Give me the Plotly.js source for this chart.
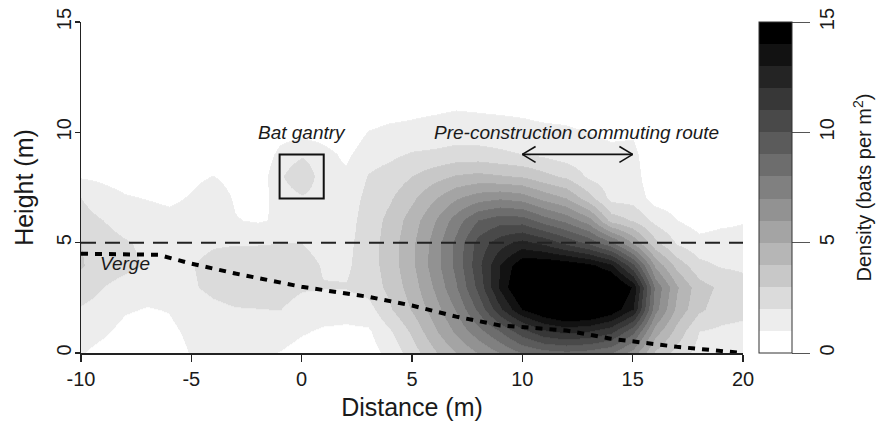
<!DOCTYPE html>
<html><head><meta charset="utf-8">
<script src="https://cdn.plot.ly/plotly-3.0.1.min.js"></script>
<style>html,body{margin:0;padding:0;background:#fff;} #chart{width:880px;height:426px;}</style>
</head><body><div id="chart"></div>
<script>
// Grid positions (m)
const distance = [-10,-9,-8,-7,-6,-5,-4,-3,-2,-1,0,1,2,3,4,5,6,7,8,9,10,11,12,13,14,15,16,17,18,19,20];
const height = [0,1,2,3,4,5,6,7,8,9,10,11,12];
// Bat density (bats per m^2), one list per distance column, values for heights 0..12
const density = [
  [1.05,1.4,1.9,2.5,3.1,3.0,2.4,2.0,0.9,0.6,0.4,0.2,0.1],      // -10
  [0.7,1.15,1.6,2.0,2.4,2.4,2.0,1.4,0.8,0.5,0.3,0.15,0.05],     // -9
  [0.4,0.7,1.1,1.7,2.2,2.1,1.6,1.1,0.6,0.35,0.2,0.1,0],        // -8
  [0.3,0.55,0.95,1.4,1.95,1.8,1.4,0.97,0.5,0.3,0.15,0.05,0],   // -7
  [0.6,0.8,1.05,1.4,1.7,1.6,1.25,0.85,0.45,0.2,0.1,0,0],       // -6
  [1.05,1.2,1.5,1.9,1.95,1.7,1.3,1.08,0.8,0.3,0.1,0,0],        // -5
  [1.2,1.4,1.8,2.2,2.3,1.9,1.6,1.5,1.02,0.55,0.2,0,0],         // -4
  [1.3,1.6,1.95,2.4,2.45,1.95,1.05,0.9,0.7,0.25,0.1,0,0],      // -3
  [1.2,1.6,1.98,2.5,2.5,1.95,0.9,0.6,0.35,0.2,0.1,0,0],        // -2
  [0.95,1.45,2.02,2.4,2.4,2.0,1.15,1.4,1.85,1.3,0.6,0.2,0],    // -1
  [0.6,1.1,1.6,2.1,2.4,2.0,1.4,1.85,2.9,1.85,0.7,0.2,0],       // 0
  [0.6,0.85,1.5,2.05,1.9,1.6,1.5,1.5,1.3,1.3,0.6,0.2,0],       // 1
  [0.5,0.8,1.4,2.05,1.85,1.75,1.6,1.45,1.2,0.8,0.3,0.1,0],     // 2
  [0.55,0.85,1.6,2.4,2.5,2.5,2.45,2.3,2.05,1.6,1.05,0.4,0.1],  // 3
  [1.3,1.9,2.9,3.3,3.5,3.5,3.3,2.9,2.4,1.8,1.3,0.6,0.1],       // 4
  [2.5,3.2,4.1,4.5,4.8,4.8,4.5,3.8,3.0,2.1,1.3,0.8,0.2],       // 5
  [3.8,4.8,5.5,6.1,6.5,6.4,5.9,4.9,3.6,2.2,1.4,0.9,0.3],       // 6
  [5.0,6.2,7.1,7.9,8.3,8.3,7.5,5.9,4.1,2.4,1.5,1.0,0.4],       // 7
  [6.0,7.6,9.2,10.3,10.7,10.4,9.0,6.6,4.3,2.4,1.45,0.95,0.35], // 8
  [7.0,9.0,11.8,13.2,13.0,11.6,9.6,6.9,4.1,2.2,1.4,0.9,0.3],   // 9
  [8.0,10.6,14.0,15.5,14.8,12.4,9.5,6.6,3.9,2.0,1.3,0.85,0.25],// 10
  [8.5,11.8,15.2,16.5,15.0,11.8,8.5,5.7,3.3,1.8,1.2,0.75,0.2], // 11
  [8.7,12.3,16.0,16.5,14.8,10.8,7.7,5.0,2.8,1.5,1.15,0.7,0.15],// 12
  [8.5,12.0,15.8,16.5,14.3,9.8,6.4,3.4,1.8,1.3,1.0,0.5,0.1],   // 13
  [8.0,11.3,14.8,16.0,13.2,8.3,3.6,1.7,1.35,1.2,0.85,0.4,0],   // 14
  [6.5,9.3,13.0,13.8,10.2,5.9,2.9,1.6,1.5,1.3,0.85,0.4,0],     // 15
  [3.8,5.5,7.4,7.8,5.8,3.3,1.7,0.6,0.1,0,0,0,0],               // 16
  [2.6,3.6,4.7,5.1,3.6,1.9,1.0,0.5,0.2,0.1,0,0,0],             // 17
  [1.6,2.0,3.2,3.4,2.3,1.3,0.6,0.3,0.1,0,0,0,0],               // 18
  [1.3,1.8,2.5,2.8,1.9,1.4,0.8,0.5,0.3,0.1,0,0,0],             // 19
  [1.2,1.7,2.3,2.4,1.8,1.3,0.95,0.7,0.5,0.3,0.1,0,0]           // 20
];
// Verge profile (dotted line)
const vergeX = [-10,-6.5,-5,-3,0,3,5,7,9,12,14,17,20];
const vergeY = [4.5,4.45,4.05,3.6,3.0,2.55,2.15,1.65,1.25,1.02,0.65,0.28,0];
const xTicks = [-10,-5,0,5,10,15,20];
const xTickLabels = ['-10','-5','0','5','10','15','20'];
const yTicks = [0,5,10,15];
const yTickLabels = ['0','5','10','15'];
const densityTicks = [0,5,10,15];
const densityTickLabels = ['0','5','10','15'];

const z = height.map((h, j) => distance.map((d, i) => density[i][j]));

const nBands = 15;
const colorscale = [];
for (let k = 0; k < nBands; k++) {
  const g = Math.round(255 * (1 - k / (nBands - 1)));
  const c = `rgb(${g},${g},${g})`;
  colorscale.push([k / nBands, c]);
  colorscale.push([(k + 1) / nBands, c]);
}

const FONT = 'Liberation Sans, Arial, Helvetica, sans-serif';
const INK = '#1a1a1a';

const traces = [
  {
    type: 'heatmap', x: distance, y: height, z: z,
    zmin: 0, zmax: 15, zsmooth: 'best', colorscale: colorscale,
    hoverinfo: 'skip',
    colorbar: {
      x: 1.0242, xanchor: 'left', xpad: 0, y: 0.5, yanchor: 'middle', ypad: 0,
      len: 1, lenmode: 'fraction', thickness: 33, thicknessmode: 'pixels',
      outlinewidth: 1, outlinecolor: '#333',
      tickmode: 'array', tickvals: densityTicks, ticktext: densityTickLabels,
      ticks: 'outside', ticklen: 18,
      tickwidth: 1, tickcolor: '#555', tickangle: -90,
      tickfont: {size: 20, family: FONT, color: INK}
    }
  },
  {
    type: 'scatter', mode: 'lines', x: vergeX, y: vergeY,
    line: {color: '#000', width: 4, dash: '7px,7px'},
    hoverinfo: 'skip', showlegend: false
  }
];

const layout = {
  width: 880, height: 426,
  margin: {l: 81, r: 137, t: 22, b: 73},
  paper_bgcolor: '#fff', plot_bgcolor: '#fff',
  showlegend: false,
  font: {family: FONT, color: INK},
  xaxis: {
    range: [-10, 20], tickmode: 'array', tickvals: xTicks, ticktext: xTickLabels,
    ticks: 'outside', ticklen: 7, tickwidth: 1.5, tickcolor: '#222',
    showline: true, linewidth: 1.5, linecolor: '#222',
    showgrid: false, zeroline: false, automargin: false,
    tickfont: {size: 20, family: FONT, color: INK}, ticklabelstandoff: 0,
    title: {text: 'Distance (m)', font: {size: 25, family: FONT, color: INK}, standoff: 10}
  },
  yaxis: {
    range: [0, 15], tickmode: 'array', tickvals: yTicks, ticktext: yTickLabels,
    ticks: 'outside', ticklen: 5, tickwidth: 1.5, tickcolor: '#222',
    showline: true, linewidth: 1.5, linecolor: '#222',
    showgrid: false, zeroline: false, automargin: false, tickangle: -90,
    tickfont: {size: 20, family: FONT, color: INK}, ticklabelstandoff: -4,
    title: {text: 'Height (m)', font: {size: 25, family: FONT, color: INK}, standoff: 12}
  },
  shapes: [
    {type: 'line', xref: 'x', yref: 'y', x0: -10, x1: 20, y0: 5, y1: 5, line: {color: '#222', width: 2, dash: '15px,9px'}},
    {type: 'rect', xref: 'x', yref: 'y', x0: -1, x1: 1, y0: 7, y1: 9, line: {color: '#111', width: 2}},
    {type: 'line', xref: 'x', yref: 'y', x0: 10, x1: 15, y0: 9, y1: 9, line: {color: '#111', width: 1.6}},
    {type: 'line', xref: 'x', yref: 'y', x0: 15, x1: 14.4, y0: 9, y1: 9.36, line: {color: '#111', width: 1.6}},
    {type: 'line', xref: 'x', yref: 'y', x0: 15, x1: 14.4, y0: 9, y1: 8.64, line: {color: '#111', width: 1.6}},
    {type: 'line', xref: 'x', yref: 'y', x0: 10, x1: 10.6, y0: 9, y1: 9.36, line: {color: '#111', width: 1.6}},
    {type: 'line', xref: 'x', yref: 'y', x0: 10, x1: 10.6, y0: 9, y1: 8.64, line: {color: '#111', width: 1.6}}
  ],
  annotations: [
    {xref: 'x', yref: 'y', x: 0, y: 10, text: '<i>Bat gantry</i>', showarrow: false, xanchor: 'center', yanchor: 'middle', font: {size: 19, family: FONT, color: INK}},
    {xref: 'x', yref: 'y', x: 12.45, y: 10, text: '<i>Pre-construction commuting route</i>', showarrow: false, xanchor: 'center', yanchor: 'middle', font: {size: 19, family: FONT, color: INK}},
    {xref: 'x', yref: 'y', x: -8, y: 4.05, text: '<i>Verge</i>', showarrow: false, xanchor: 'center', yanchor: 'middle', font: {size: 19, family: FONT, color: INK}},
    {xref: 'paper', yref: 'paper', x: (862 - 81) / 662, y: 0.5, text: 'Density (bats per m<sup>2</sup>)', textangle: -90, showarrow: false, xanchor: 'center', yanchor: 'middle', font: {size: 20, family: FONT, color: INK}}
  ]
};

Plotly.newPlot('chart', traces, layout, {displayModeBar: false, staticPlot: true});
</script>
</body></html>
